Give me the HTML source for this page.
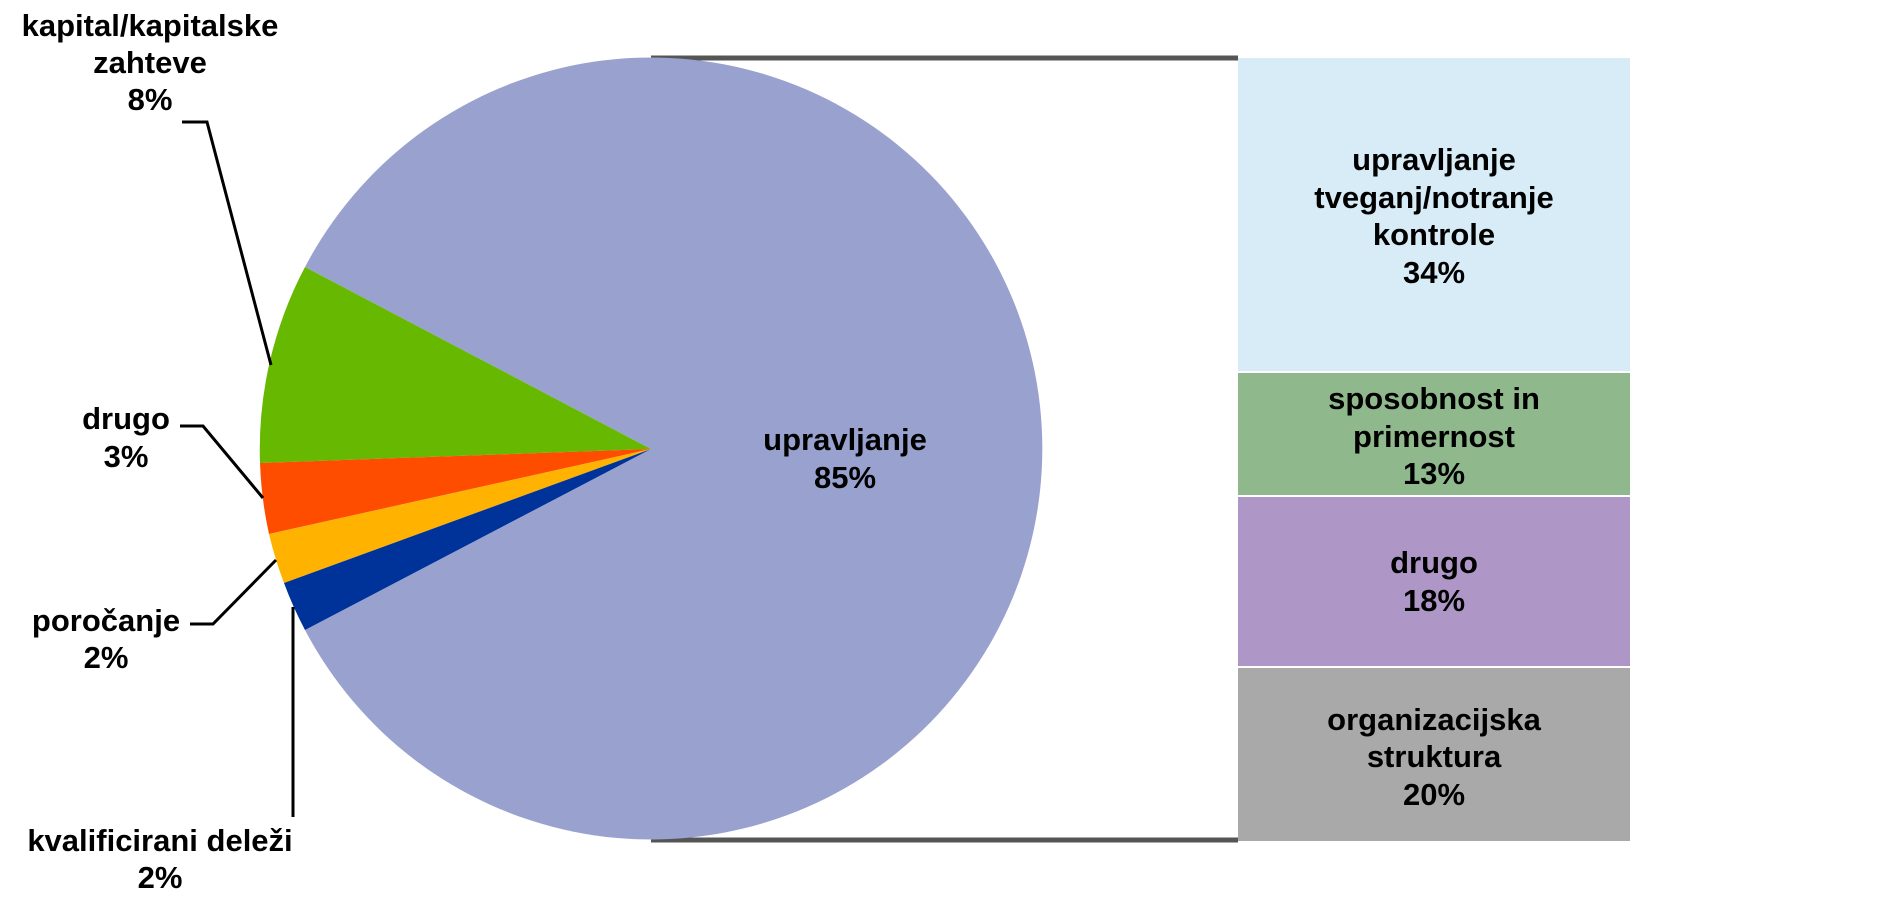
<!DOCTYPE html>
<html><head><meta charset="utf-8"><style>
html,body{margin:0;padding:0;background:#fff;}
svg{display:block}
text{font-family:"Liberation Sans",Arial,sans-serif;font-weight:bold;font-size:31px;fill:#000;text-anchor:middle;}
</style></head><body>
<svg width="1890" height="899" viewBox="0 0 1890 899">
<line x1="651" y1="58" x2="1238" y2="58" stroke="#555" stroke-width="5"/>
<line x1="651" y1="840" x2="1238" y2="840" stroke="#555" stroke-width="5"/>
<path d="M651,449 L305,267 A391,391 0 1,1 305,630 Z" fill="#99a2cf"/>
<path d="M651,449 L305,267 A391,391 0 0,0 260,463 Z" fill="#66b800"/>
<path d="M651,449 L260,463 A391,391 0 0,0 269,534 Z" fill="#ff4d00"/>
<path d="M651,449 L269,534 A391,391 0 0,0 284,583 Z" fill="#ffb300"/>
<path d="M651,449 L284,583 A391,391 0 0,0 305,630 Z" fill="#003399"/>
<rect x="1238" y="58" width="392" height="313" fill="#d7ecf7"/>
<rect x="1238" y="373" width="392" height="122" fill="#8fb98d"/>
<rect x="1238" y="497" width="392" height="169" fill="#ae97c6"/>
<rect x="1238" y="668" width="392" height="173" fill="#a9a9a9"/>
<g fill="none" stroke="#000" stroke-width="3">
<polyline points="182,122 207,122 271,365"/>
<polyline points="180,426 203,426 263,498"/>
<polyline points="190,624 213,624 276,560"/>
<polyline points="293,817 293,607"/>
</g>
<text x="150" y="36">kapital/kapitalske</text>
<text x="150" y="73">zahteve</text>
<text x="150" y="110">8%</text>
<text x="126" y="429">drugo</text>
<text x="126" y="467">3%</text>
<text x="106" y="631">poročanje</text>
<text x="106" y="668">2%</text>
<text x="160" y="851">kvalificirani deleži</text>
<text x="160" y="888">2%</text>
<text x="845" y="450">upravljanje</text>
<text x="845" y="488">85%</text>
<text x="1434" y="170">upravljanje</text>
<text x="1434" y="208">tveganj/notranje</text>
<text x="1434" y="245">kontrole</text>
<text x="1434" y="283">34%</text>
<text x="1434" y="409">sposobnost in</text>
<text x="1434" y="447">primernost</text>
<text x="1434" y="484">13%</text>
<text x="1434" y="573">drugo</text>
<text x="1434" y="611">18%</text>
<text x="1434" y="730">organizacijska</text>
<text x="1434" y="767">struktura</text>
<text x="1434" y="805">20%</text>
</svg>
</body></html>
